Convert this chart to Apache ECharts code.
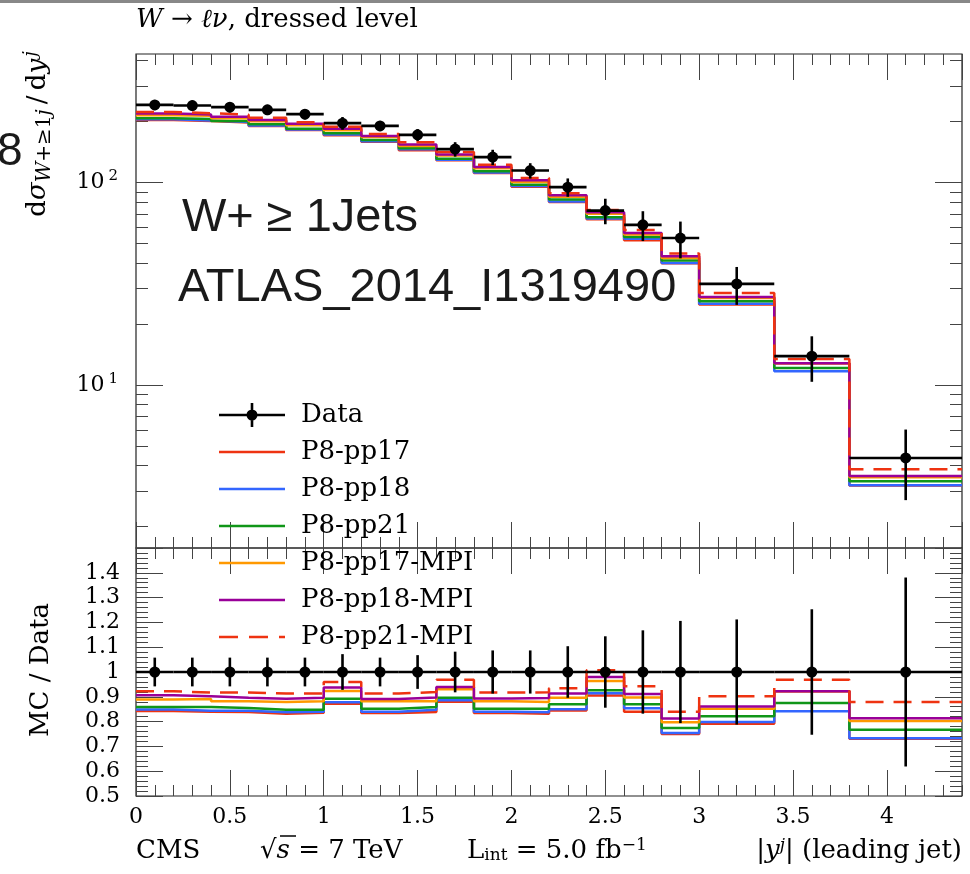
<!DOCTYPE html>
<html>
<head>
<meta charset="utf-8">
<script src="https://cdn.jsdelivr.net/npm/echarts@6.0.0/dist/echarts.min.js"></script>
<style>
html, body { margin: 0; padding: 0; background: #fff; }
#main { width: 970px; height: 874px; }
</style>
</head>
<body>
<div id="main"></div>
<script>
// bins in |y^j| of the leading jet
var binEdges = [0, 0.2, 0.4, 0.6, 0.8, 1.0, 1.2, 1.4, 1.6, 1.8, 2.0, 2.2, 2.4, 2.6, 2.8, 3.0, 3.4, 3.8, 4.4];
var binCenters = [0.1, 0.3, 0.5, 0.7, 0.9, 1.1, 1.3, 1.5, 1.7, 1.9, 2.1, 2.3, 2.5, 2.7, 2.9, 3.2, 3.6, 4.1];

// measured cross section and its relative error
var dataXsec = [241.7, 239.9, 235.5, 228.5, 217.5, 196.4, 190.4, 171.9, 146.2, 133.5, 114.6, 94.9, 72.7, 61.8, 53.2, 31.6, 13.9, 4.37];
var dataRelErr = [0.058, 0.058, 0.058, 0.058, 0.058, 0.072, 0.058, 0.068, 0.082, 0.087, 0.087, 0.104, 0.144, 0.168, 0.206, 0.212, 0.253, 0.381];

// MC / Data ratios
var ratioPP17 = [0.843, 0.840, 0.839, 0.832, 0.836, 0.872, 0.835, 0.839, 0.880, 0.835, 0.832, 0.845, 0.905, 0.840, 0.750, 0.791, 0.922, 0.731];
var ratioPP18 = [0.849, 0.844, 0.844, 0.838, 0.840, 0.878, 0.840, 0.848, 0.886, 0.840, 0.838, 0.850, 0.914, 0.854, 0.754, 0.798, 0.842, 0.733];
var ratioPP21 = [0.859, 0.859, 0.855, 0.848, 0.848, 0.892, 0.852, 0.859, 0.896, 0.852, 0.852, 0.870, 0.926, 0.870, 0.774, 0.822, 0.875, 0.767];
var ratioPP17MPI = [0.889, 0.891, 0.882, 0.879, 0.882, 0.923, 0.882, 0.882, 0.930, 0.882, 0.879, 0.896, 0.964, 0.897, 0.797, 0.852, 0.922, 0.802];
var ratioPP18MPI = [0.906, 0.902, 0.896, 0.892, 0.896, 0.938, 0.891, 0.897, 0.940, 0.893, 0.895, 0.913, 0.980, 0.911, 0.813, 0.861, 0.922, 0.814];
var ratioPP21MPI = [0.922, 0.917, 0.917, 0.913, 0.913, 0.960, 0.913, 0.919, 0.969, 0.917, 0.918, 0.934, 1.007, 0.943, 0.840, 0.902, 0.969, 0.879];

var mcNames = ['P8-pp17', 'P8-pp18', 'P8-pp21', 'P8-pp17-MPI', 'P8-pp18-MPI', 'P8-pp21-MPI'];
var mcRatios = [ratioPP17, ratioPP18, ratioPP21, ratioPP17MPI, ratioPP18MPI, ratioPP21MPI];
var mcColors = ['#ee3311', '#3366ff', '#109618', '#ff9900', '#990099', '#ee3311'];
var mcDashed = [false, false, false, false, false, true];

// log axis ticks of the upper panel
var yMajorTicks = [10, 100];
var yMinorTicks = [2, 3, 4, 5, 6, 7, 8, 9, 20, 30, 40, 50, 60, 70, 80, 90, 200, 300, 400];

var serif = "'DejaVu Serif', 'Liberation Serif', serif";
var sans = "'Liberation Sans', Arial, sans-serif";
var tickColor = '#444';

function stepPoints(vals) {
	var pts = [];
	for (var i = 0; i < vals.length; i++) {
		pts.push([binEdges[i], vals[i]]);
	}
	pts.push([binEdges[binEdges.length - 1], vals[vals.length - 1]]);
	return pts;
}

function renderData(params, api) {
	var y = api.value(3);
	var a = api.coord([api.value(0), y]);
	var b = api.coord([api.value(1), y]);
	var c = api.coord([api.value(2), y]);
	var lo = api.coord([api.value(2), api.value(4)]);
	var hi = api.coord([api.value(2), api.value(5)]);
	var st = { stroke: '#000', lineWidth: 2.6 };
	return {
		type: 'group',
		children: [
			{ type: 'line', shape: { x1: a[0], y1: a[1], x2: b[0], y2: b[1] }, style: st },
			{ type: 'line', shape: { x1: lo[0], y1: lo[1], x2: hi[0], y2: hi[1] }, style: st },
			{ type: 'circle', shape: { cx: c[0], cy: c[1], r: 5.5 }, style: { fill: '#000' } }
		]
	};
}

var dataTop = [], dataRatio = [];
for (var i = 0; i < dataXsec.length; i++) {
	dataTop.push([binEdges[i], binEdges[i + 1], binCenters[i], dataXsec[i],
		dataXsec[i] * (1 - dataRelErr[i]), dataXsec[i] * (1 + dataRelErr[i])]);
	dataRatio.push([binEdges[i], binEdges[i + 1], binCenters[i], 1, 1 - dataRelErr[i], 1 + dataRelErr[i]]);
}

function xAx(grid, pos, interval, len, labels) {
	return {
		type: 'value', gridIndex: grid, position: pos, min: 0, max: 4.4, interval: interval,
		axisLine: { show: false, onZero: false },
		splitLine: { show: false },
		axisTick: { show: true, inside: true, length: len, lineStyle: { color: tickColor, width: 1 } },
		axisLabel: {
			show: labels, showMaxLabel: false, margin: 10,
			color: '#000', fontFamily: serif, fontSize: 22
		}
	};
}

function yLog(pos, vals, len, labels) {
	return {
		type: 'log', logBase: 10, gridIndex: 0, position: pos, min: 1.57, max: 431,
		axisLine: { show: false, onZero: false },
		splitLine: { show: false },
		minorTick: { show: false },
		axisTick: { show: true, inside: true, length: len, customValues: vals, lineStyle: { color: tickColor, width: 1 } },
		axisLabel: {
			show: labels, customValues: vals, margin: 18, color: '#000',
			formatter: function (v) {
				return '{b|10}{s|' + Math.round(Math.log(v) / Math.LN10) + '}';
			},
			rich: {
				b: { fontFamily: serif, fontSize: 22, color: '#000' },
				s: { fontFamily: serif, fontSize: 15, color: '#000', padding: [0, 0, 12, 4] }
			}
		}
	};
}

function yRatio(pos, labels) {
	return {
		type: 'value', gridIndex: 1, position: pos, min: 0.5, max: 1.5, interval: 0.1,
		axisLine: { show: false, onZero: false },
		splitLine: { show: false },
		axisTick: { show: true, inside: true, length: 27, lineStyle: { color: tickColor, width: 1 } },
		minorTick: { show: true, splitNumber: 5, length: 12, lineStyle: { color: tickColor, width: 1 } },
		axisLabel: {
			show: labels, showMaxLabel: false, margin: 16,
			color: '#000', fontFamily: serif, fontSize: 22
		}
	};
}

var series = [];
for (var k = 0; k < mcNames.length; k++) {
	var mcTop = [];
	for (var j = 0; j < dataXsec.length; j++) {
		mcTop.push(dataXsec[j] * mcRatios[k][j]);
	}
	var ls = { color: mcColors[k], width: 2.5, type: mcDashed[k] ? [18, 10] : 'solid' };
	series.push({
		name: mcNames[k], type: 'line', step: 'end', xAxisIndex: 0, yAxisIndex: 0,
		symbol: 'none', data: stepPoints(mcTop), lineStyle: ls, itemStyle: { color: mcColors[k] }
	});
	series.push({
		name: mcNames[k], type: 'line', step: 'end', xAxisIndex: 4, yAxisIndex: 4,
		symbol: 'none', data: stepPoints(mcRatios[k]), lineStyle: ls, itemStyle: { color: mcColors[k] }
	});
}
series.push({
	name: 'Data', type: 'custom', xAxisIndex: 0, yAxisIndex: 0, renderItem: renderData,
	encode: { x: [0, 1, 2], y: [3, 4, 5] }, data: dataTop, itemStyle: { color: '#000' }, z: 5
});
series.push({
	name: 'Data', type: 'custom', xAxisIndex: 4, yAxisIndex: 4, renderItem: renderData,
	encode: { x: [0, 1, 2], y: [3, 4, 5] }, data: dataRatio, itemStyle: { color: '#000' }, z: 5
});

// legend icons (tiny corner dots keep the 66x24 box)
var iconBox = 'M0 0h0.01v0.01H0z M65.99 23.99h0.01v0.01h-0.01z ';
var dataIcon = 'path://' + iconBox + 'M0 10.7h66v2.6H0z M31.7 0h2.6v24h-2.6z M27.5 12a5.5 5.5 0 1 1 11 0a5.5 5.5 0 1 1 -11 0z';
var lineIcon = 'path://' + iconBox + 'M0 10.7h66v2.6H0z';
var dashIcon = 'path://' + iconBox + 'M0 10.7h19v2.6H0z M30 10.7h19v2.6H30z M60 10.7h6v2.6H60z';
var legendData = [{ name: 'Data', icon: dataIcon }];
for (var m = 0; m < mcNames.length; m++) {
	legendData.push({ name: mcNames[m], icon: mcDashed[m] ? dashIcon : lineIcon });
}

var txtRich = {
	n: { fontFamily: serif, fontSize: 26, color: '#000' },
	i: { fontFamily: serif, fontSize: 26, fontStyle: 'italic', color: '#000' },
	sb: { fontFamily: serif, fontSize: 17, color: '#000', padding: [10, 0, 0, 0] },
	sp: { fontFamily: serif, fontSize: 17, color: '#000', padding: [0, 0, 10, 0] },
	spi: { fontFamily: serif, fontSize: 17, fontStyle: 'italic', color: '#000', padding: [0, 0, 10, 0] }
};

var yRich = {
	n: { fontFamily: serif, fontSize: 26, color: '#000' },
	i: { fontFamily: serif, fontSize: 26, fontStyle: 'italic', color: '#000' },
	sb: { fontFamily: serif, fontSize: 20, color: '#000', padding: [14, 0, 0, 0] },
	sbi: { fontFamily: serif, fontSize: 20, fontStyle: 'italic', color: '#000', padding: [14, 0, 0, 0] },
	spi: { fontFamily: serif, fontSize: 18, fontStyle: 'italic', color: '#000', padding: [0, 0, 14, 2] }
};

function txt(x, y, text, rich, align, rot) {
	return {
		type: 'text', x: x, y: y, rotation: rot || 0, silent: true,
		style: {
			text: text, rich: rich, fill: '#000', font: '26px ' + serif,
			align: align, textAlign: align, verticalAlign: 'middle', textVerticalAlign: 'middle'
		}
	};
}

function bigTxt(x, y, text) {
	return {
		type: 'text', x: x, y: y, silent: true,
		style: {
			text: text, fill: '#1a1a1a', font: '47px ' + sans,
			align: 'left', textAlign: 'left', verticalAlign: 'middle', textVerticalAlign: 'middle'
		}
	};
}

var myChart = echarts.init(document.getElementById('main'), null, { renderer: 'canvas' });
var option = {
	animation: false,
	backgroundColor: '#fff',
	grid: [
		{ left: 136, top: 54, width: 826, height: 494, show: true, borderColor: '#222', borderWidth: 1.2, backgroundColor: 'transparent', outerBoundsMode: 'none', containLabel: false },
		{ left: 136, top: 548, width: 826, height: 248, show: true, borderColor: '#222', borderWidth: 1.2, backgroundColor: 'transparent', outerBoundsMode: 'none', containLabel: false }
	],
	xAxis: [
		xAx(0, 'bottom', 0.5, 26, false),
		xAx(0, 'bottom', 0.1, 11, false),
		xAx(0, 'top', 0.5, 26, false),
		xAx(0, 'top', 0.1, 11, false),
		xAx(1, 'bottom', 0.5, 26, true),
		xAx(1, 'bottom', 0.1, 11, false),
		xAx(1, 'top', 0.5, 26, false),
		xAx(1, 'top', 0.1, 11, false)
	],
	yAxis: [
		yLog('left', yMajorTicks, 27, true),
		yLog('left', yMinorTicks, 12, false),
		yLog('right', yMajorTicks, 27, false),
		yLog('right', yMinorTicks, 12, false),
		yRatio('left', true),
		yRatio('right', false)
	],
	legend: {
		orient: 'vertical', left: 214, top: 397,
		itemWidth: 66, itemHeight: 24, itemGap: 11,
		selectedMode: false,
		textStyle: { fontFamily: serif, fontSize: 26, color: '#000', padding: [0, 0, 0, 11] },
		data: legendData
	},
	graphic: [
		{ type: 'rect', shape: { x: 0, y: 0, width: 970, height: 3 }, style: { fill: '#888' }, silent: true },
		txt(136, 20, '{i|W}{n| → }{i|ℓν}{n|, dressed level}', txtRich, 'left'),
		txt(38, 134, '{n|d}{i|σ}{sbi|W}{sb|+≥1}{sbi|j}{n|\u2009/\u2009d}{i|y}{spi|j}', yRich, 'center', Math.PI / 2),
		{
			type: 'text', x: -3, y: 152, silent: true,
			style: { text: '8', fill: '#1a1a1a', font: '46px ' + sans, align: 'left', textAlign: 'left', verticalAlign: 'middle', textVerticalAlign: 'middle' }
		},
		bigTxt(182, 218, 'W+ ≥ 1Jets'),
		bigTxt(178, 288, 'ATLAS_2014_I1319490'),
		txt(41, 670, '{n|MC / Data}', txtRich, 'center', Math.PI / 2),
		txt(136, 851, '{n|CMS}', txtRich, 'left'),
		txt(260, 851, '{n|√}{i|s}{n| = 7 TeV}', txtRich, 'left'),
		{ type: 'line', shape: { x1: 280, y1: 836, x2: 296, y2: 836 }, style: { stroke: '#000', lineWidth: 1.5 }, silent: true },
		txt(467, 851, '{n|L}{sb|int}{n| = 5.0 fb}{sp|−1}', txtRich, 'left'),
		txt(962, 851, '{n||}{i|y}{spi|j}{n|| (leading jet)}', txtRich, 'right')
	],
	series: series
};
myChart.setOption(option);
</script>
</body>
</html>
